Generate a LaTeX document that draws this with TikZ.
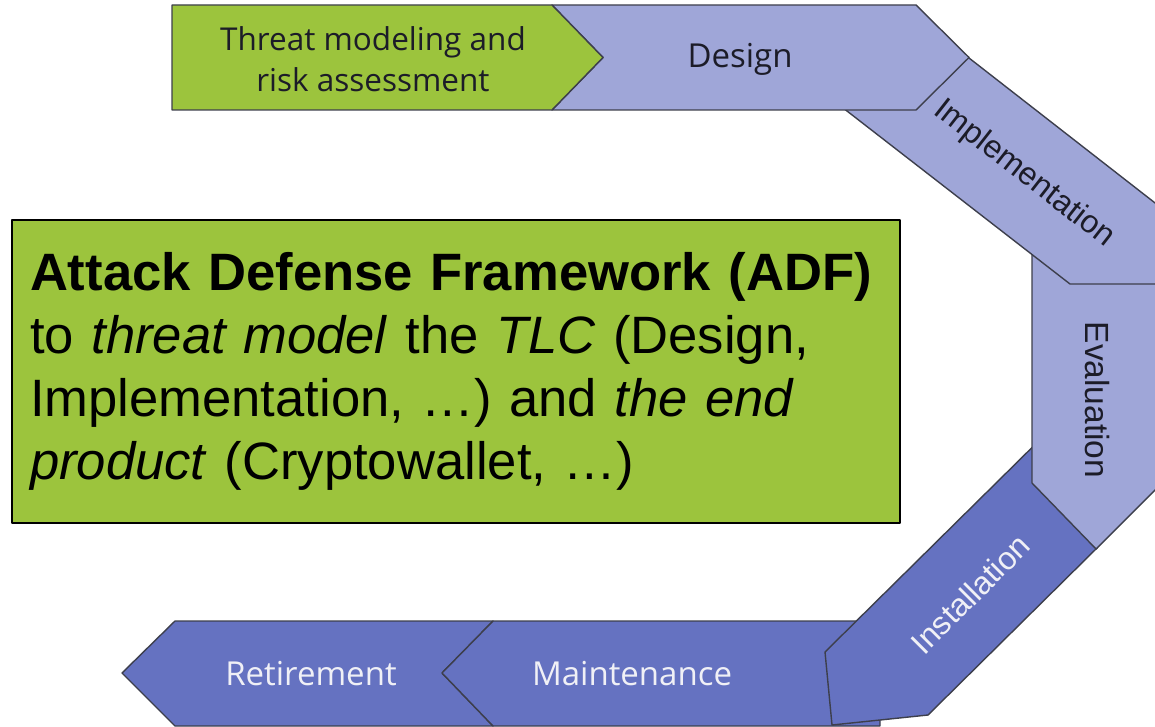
\documentclass[tikz,border=0pt]{standalone}
\usepackage{fontspec}
\setmainfont{Liberation Sans}
\newfontfamily\roundfont{Open Sans}
\definecolor{greenc}{HTML}{9CC43D}
\definecolor{lightp}{HTML}{9FA6D8}
\definecolor{darkb}{HTML}{6572C1}
\definecolor{edgec}{HTML}{3D3F4C}
\definecolor{darktext}{HTML}{1C1C28}
\definecolor{lighttext}{HTML}{F0F0F6}
\begin{document}
\begin{tikzpicture}[x=1pt,y=-1pt,line join=round]
\tikzset{
  greenstep/.style={fill=greenc,draw=edgec,line width=1.4pt},
  lightstep/.style={fill=lightp,draw=edgec,line width=1.4pt},
  darkstep/.style={fill=darkb,draw=edgec,line width=1.4pt},
  roundlabel/.style={font=\roundfont\fontsize{33}{41}\selectfont,align=center,inner sep=0pt},
  arllabel/.style={font=\fontsize{32}{38}\selectfont,inner sep=0pt},
}
\useasboundingbox (0,0) rectangle (1155,727);
\clip (0,0) rectangle (1155,727);
% bottom row
\path[darkstep] (175,621) -- (493,621) -- (442,673) -- (493,726) -- (175,726) -- (122,673) -- cycle;
\path[darkstep] (493,621) -- (880,621) -- (880,726) -- (493,726) -- (442,673) -- cycle;
% installation
\path[darkstep] (825,652) -- (832,725) -- (928,715) -- (1097,548) -- (1070,410) -- cycle;
% evaluation
\path[lightstep] (1032,240) -- (1032,483) -- (1096,549) -- (1175,470) -- (1175,240) -- cycle;
% implementation
\path[lightstep] (840,105.6) -- (930,27.6) -- (1200,238) -- (1200,284) -- (1070,284) -- cycle;
% design
\path[lightstep] (552,5) -- (916,5) -- (969,57.5) -- (916,110) -- (552,110) -- (603,57.5) -- cycle;
% threat modeling
\path[greenstep] (172,5) -- (552,5) -- (603,57.5) -- (552,110) -- (172,110) -- cycle;
% labels
\node[roundlabel,text=darktext,font=\roundfont\fontsize{31.5}{41}\selectfont] (threat) at (373,59) {Threat modeling and\\risk assessment};
\node[roundlabel,text=darktext] (design) at (740,59) {Design};
\node[arllabel,text=darktext,rotate=-38] (impl) at (1024,174) {Implementation};
\node[arllabel,text=darktext,rotate=-90,font=\fontsize{33.5}{38}\selectfont] (eval) at (1097,400) {Evaluation};
\node[arllabel,text=lighttext,rotate=45] (install) at (970,594) {Installation};
\node[roundlabel,text=lighttext] (maint) at (632,674) {Maintenance};
\node[roundlabel,text=lighttext] (retire) at (311,674) {Retirement};
% ADF box
\node[draw=black,line width=1.5pt,fill=greenc,minimum width=888pt,minimum height=303pt,
      text width=852pt,inner xsep=18pt,align=left,
      font=\fontsize{52.6}{63}\selectfont] (adf) at (456,371.5)
  {\textbf{Attack Defense Framework (ADF)}\\
   to \textit{threat model} the \textit{TLC} (Design,\\
   Implementation, …) and \textit{the end}\\
   \textit{product} (Cryptowallet, …)};
\end{tikzpicture}
\end{document}
